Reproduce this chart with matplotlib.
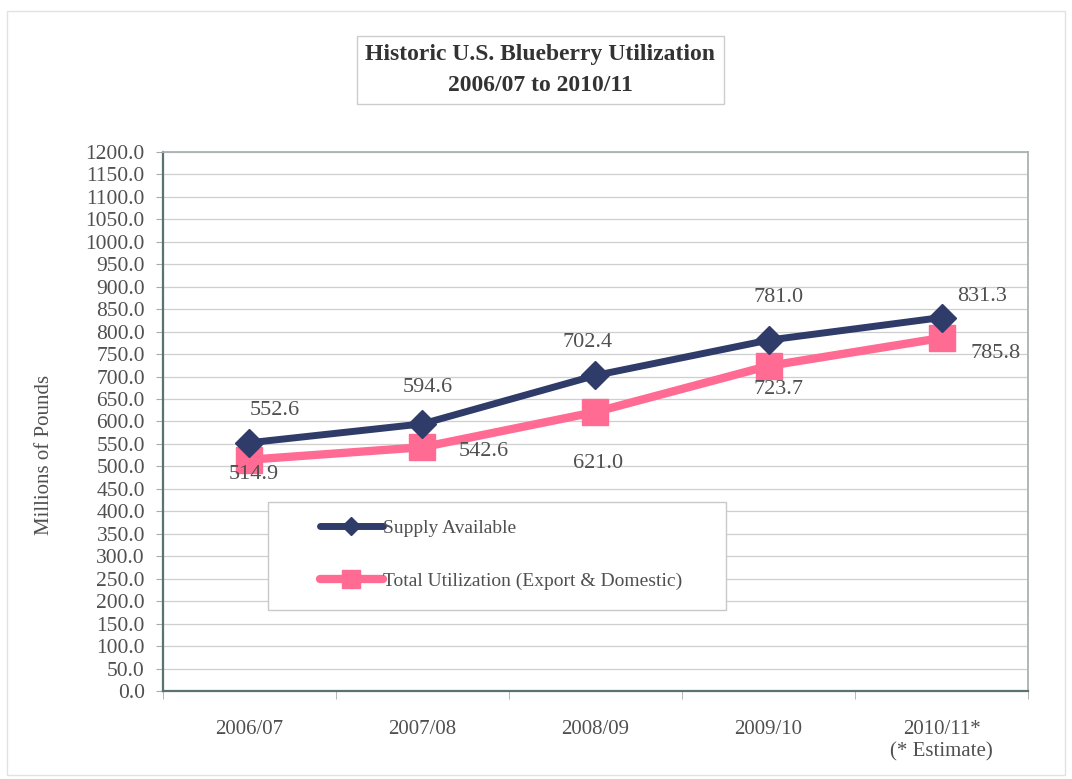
import matplotlib
matplotlib.use("Agg")
import matplotlib.pyplot as plt
from matplotlib.patches import Rectangle
from matplotlib.ticker import MultipleLocator, FixedLocator

seasons = ["2006/07", "2007/08", "2008/09", "2009/10", "2010/11*\n(* Estimate)"]
supply = [552.6, 594.6, 702.4, 781.0, 831.3]
utilization = [514.9, 542.6, 621.0, 723.7, 785.8]

NAVY = "#2f3b69"
PINK = "#ff6b93"
TXT = "#505050"
SERIF = "Liberation Serif"

# label offsets in points (dx, dy) relative to each point
supply_off = [(18, 23), (4, 26), (-6, 24), (7, 31), (29, 15)]
util_off = [(3, -11), (44, -3), (2, -37), (7, -17), (39, -11)]

plt.rcParams["font.family"] = [SERIF, "DejaVu Serif"]

fig = plt.figure(figsize=(10.72, 7.79), dpi=100)
ax = fig.add_axes([0.152, 0.113, 0.807, 0.692])

x = list(range(len(seasons)))
ax.plot(x, supply, color=NAVY, lw=5, marker="D", ms=14, zorder=4,
        label="Supply Available", solid_capstyle="round")
ax.plot(x, utilization, color=PINK, lw=6, marker="s", ms=19, zorder=3,
        label="Total Utilization (Export & Domestic)", solid_capstyle="round")

for i in x:
    ax.annotate(f"{supply[i]:.1f}", (i, supply[i]), xytext=supply_off[i],
                textcoords="offset points", ha="center", va="center",
                fontsize=16, color=TXT)
    ax.annotate(f"{utilization[i]:.1f}", (i, utilization[i]), xytext=util_off[i],
                textcoords="offset points", ha="center", va="center",
                fontsize=16, color=TXT)

ax.set_xlim(-0.5, len(seasons) - 0.5)
ax.set_ylim(0, 1200)
ax.yaxis.set_major_locator(MultipleLocator(50))
ax.yaxis.set_major_formatter(matplotlib.ticker.FormatStrFormatter("%.1f"))
ax.set_xticks(x)
ax.set_xticklabels(seasons)
ax.xaxis.set_minor_locator(FixedLocator([i + 0.5 for i in range(len(seasons) - 1)] + [-0.5, 4.5]))
ax.tick_params(axis="x", which="major", length=0, pad=21, labelsize=15, labelcolor=TXT)
ax.tick_params(axis="x", which="minor", length=6, color="#aaaaaa", direction="out")
ax.tick_params(axis="y", length=5, color="#aaaaaa", pad=8, labelsize=15.5, labelcolor=TXT)

ax.grid(axis="y", color="#cfcfcf", lw=0.9, zorder=0)
ax.set_axisbelow(True)
for side in ["left", "bottom"]:
    ax.spines[side].set_color("#5a7272")
    ax.spines[side].set_linewidth(1.6)
for side in ["top", "right"]:
    ax.spines[side].set_color("#a9b2b2")
    ax.spines[side].set_linewidth(1.3)

ax.set_ylabel("Millions of Pounds", fontsize=15, color=TXT)
ax.yaxis.set_label_coords(-0.126, 0.438)

# legend box
ax.add_patch(Rectangle((0.121, 0.150), 0.530, 0.201, transform=ax.transAxes,
                       facecolor="white", edgecolor="#c8c8c8", lw=1, zorder=2.5))
leg = ax.legend(loc="upper left", bbox_to_anchor=(0.17, 0.337), frameon=False,
                fontsize=14, handlelength=3.25, handletextpad=0.0,
                labelspacing=1.85, borderpad=0, labelcolor=TXT)
leg.set_zorder(5)
for h in leg.legend_handles:
    h.set_markersize(h.get_markersize() * 0.65)

fig.text(0.504, 1 - 70 / 779, "Historic U.S. Blueberry Utilization\n2006/07 to 2010/11",
         ha="center", va="center", fontsize=17, fontweight="bold", color="#333333",
         linespacing=1.6,
         bbox=dict(boxstyle="square,pad=0.35", fc="white", ec="#cccccc", lw=1))

fig.patches.append(Rectangle((7 / 1072, 4 / 779), 1058 / 1072, 764 / 779,
                             transform=fig.transFigure, fill=False,
                             edgecolor="#e2e2e2", lw=1))

fig.savefig("out.png", dpi=100, facecolor="white")
